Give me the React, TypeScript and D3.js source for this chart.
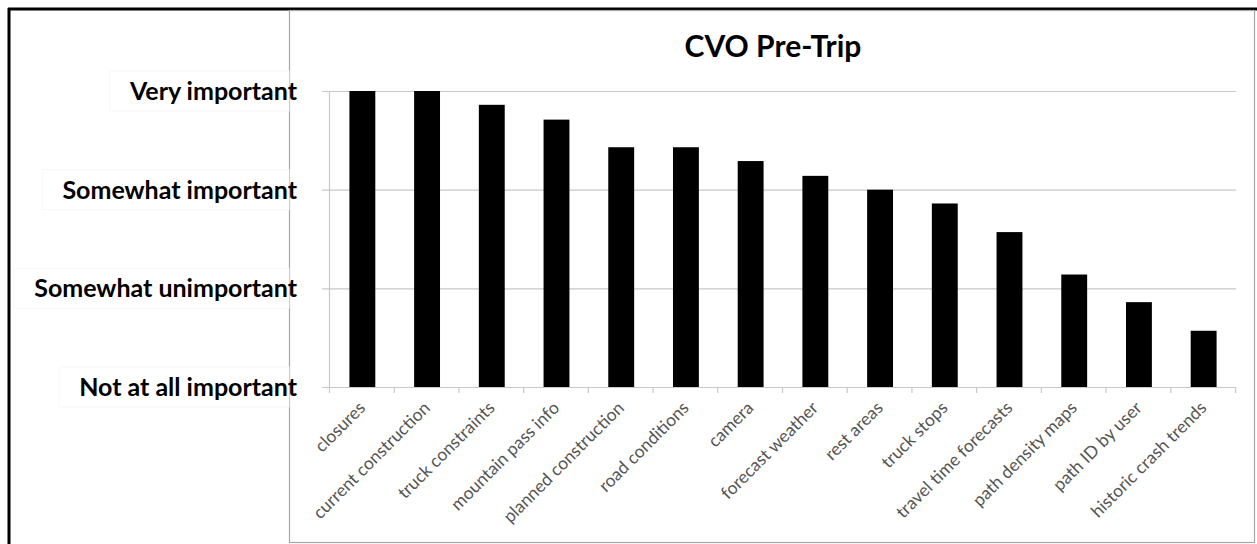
import React, { useEffect, useRef } from "react";
import * as d3 from "d3";

const categories = [
  "closures",
  "current construction",
  "truck constraints",
  "mountain pass info",
  "planned construction",
  "road conditions",
  "camera",
  "forecast weather",
  "rest areas",
  "truck stops",
  "travel time forecasts",
  "path density maps",
  "path ID by user",
  "historic crash trends",
];
const values = [4.0, 4.0, 3.86, 3.71, 3.43, 3.43, 3.29, 3.14, 3.0, 2.86, 2.57, 2.14, 1.86, 1.57];
const levelValues = [1, 2, 3, 4];
const levelLabels = ["Not at all important", "Somewhat unimportant", "Somewhat important", "Very important"];
const title = "CVO Pre-Trip";

export default function App() {
  const ref = useRef<SVGSVGElement>(null);
  useEffect(() => {
    const svg = d3.select(ref.current);
    svg.selectAll("*").remove();
    const W = 1257, H = 544;
    const left = 330, right = 1236, top = 91, bottom = 387;

    svg.append("rect").attr("x", 0).attr("y", 0).attr("width", W).attr("height", H).attr("fill", "#fff");
    // outer black border (left & top)
    svg.append("line").attr("x1", 9).attr("x2", 9).attr("y1", 8).attr("y2", H).attr("stroke", "#000").attr("stroke-width", 3);
    svg.append("line").attr("x1", 8).attr("x2", W).attr("y1", 9).attr("y2", 9).attr("stroke", "#000").attr("stroke-width", 3);
    // inner chart box
    svg.append("rect").attr("x", 289.5).attr("y", 10.5).attr("width", 965).attr("height", 532)
      .attr("fill", "none").attr("stroke", "#a6a6a6").attr("stroke-width", 1.2);

    const x = d3.scaleBand<string>().domain(categories).range([left, right]).paddingInner(0.6).paddingOuter(0.3);
    const y = d3.scaleLinear().domain([1, 4]).range([bottom, top]);

    // gridlines
    svg.append("g").selectAll("line").data(levelValues.slice(1)).join("line")
      .attr("x1", left - 8).attr("x2", right)
      .attr("y1", (d) => y(d) + 0.5).attr("y2", (d) => y(d) + 0.5)
      .attr("stroke", "#c8c8c8").attr("stroke-width", 1.2);
    // y axis line
    svg.append("line").attr("x1", left - 0.5).attr("x2", left - 0.5).attr("y1", top).attr("y2", bottom)
      .attr("stroke", "#c8c8c8").attr("stroke-width", 1.2);

    // bars
    svg.append("g").selectAll("rect").data(values).join("rect")
      .attr("x", (_, i) => x(categories[i])!)
      .attr("width", x.bandwidth())
      .attr("y", (d) => y(d))
      .attr("height", (d) => y(1) - y(d))
      .attr("fill", "#000");

    // x axis
    svg.append("line").attr("x1", left - 8).attr("x2", right).attr("y1", bottom + 0.5).attr("y2", bottom + 0.5)
      .attr("stroke", "#c8c8c8").attr("stroke-width", 1.2);
    const step = x.step();
    svg.append("g").selectAll("line").data(d3.range(categories.length + 1)).join("line")
      .attr("x1", (i) => left - 0.5 + i * step).attr("x2", (i) => left - 0.5 + i * step)
      .attr("y1", bottom).attr("y2", bottom + 6)
      .attr("stroke", "#c8c8c8").attr("stroke-width", 1.2);

    // x labels
    svg.append("g").selectAll("text").data(categories).join("text")
      .attr("transform", (d) => `translate(${x(d)! + x.bandwidth() / 2 + 4},${bottom + 22}) rotate(-45)`)
      .attr("text-anchor", "end")
      .attr("font-family", "Lato, 'Open Sans', sans-serif")
      .attr("font-size", 17.5)
      .attr("fill", "#555")
      .text((d) => d);

    // y labels with white backgrounds
    const gy = svg.append("g");
    levelValues.forEach((v, i) => {
      const t = gy.append("text")
        .attr("x", 297).attr("y", y(v) + 9)
        .attr("text-anchor", "end")
        .attr("font-family", "Lato, 'Open Sans', sans-serif")
        .attr("font-weight", "bold")
        .attr("font-size", 25)
        .attr("fill", "#000")
        .text(levelLabels[i]);
      const w = (t.node() as SVGTextElement).getComputedTextLength();
      gy.insert("rect", "text")
        .attr("x", 297 - w - 20).attr("y", y(v) - 20)
        .attr("width", w + 12).attr("height", 40)
        .attr("fill", "#fff").attr("stroke", "#f8f8f8");
    });

    // title
    svg.append("text").attr("x", 773).attr("y", 57)
      .attr("text-anchor", "middle")
      .attr("font-family", "Lato, 'Open Sans', sans-serif")
      .attr("font-weight", "bold")
      .attr("font-size", 30)
      .attr("fill", "#000")
      .text(title);
  }, []);
  return <svg ref={ref} width={1257} height={544} style={{ position: "absolute", left: 0, top: 0 }} />;
}
